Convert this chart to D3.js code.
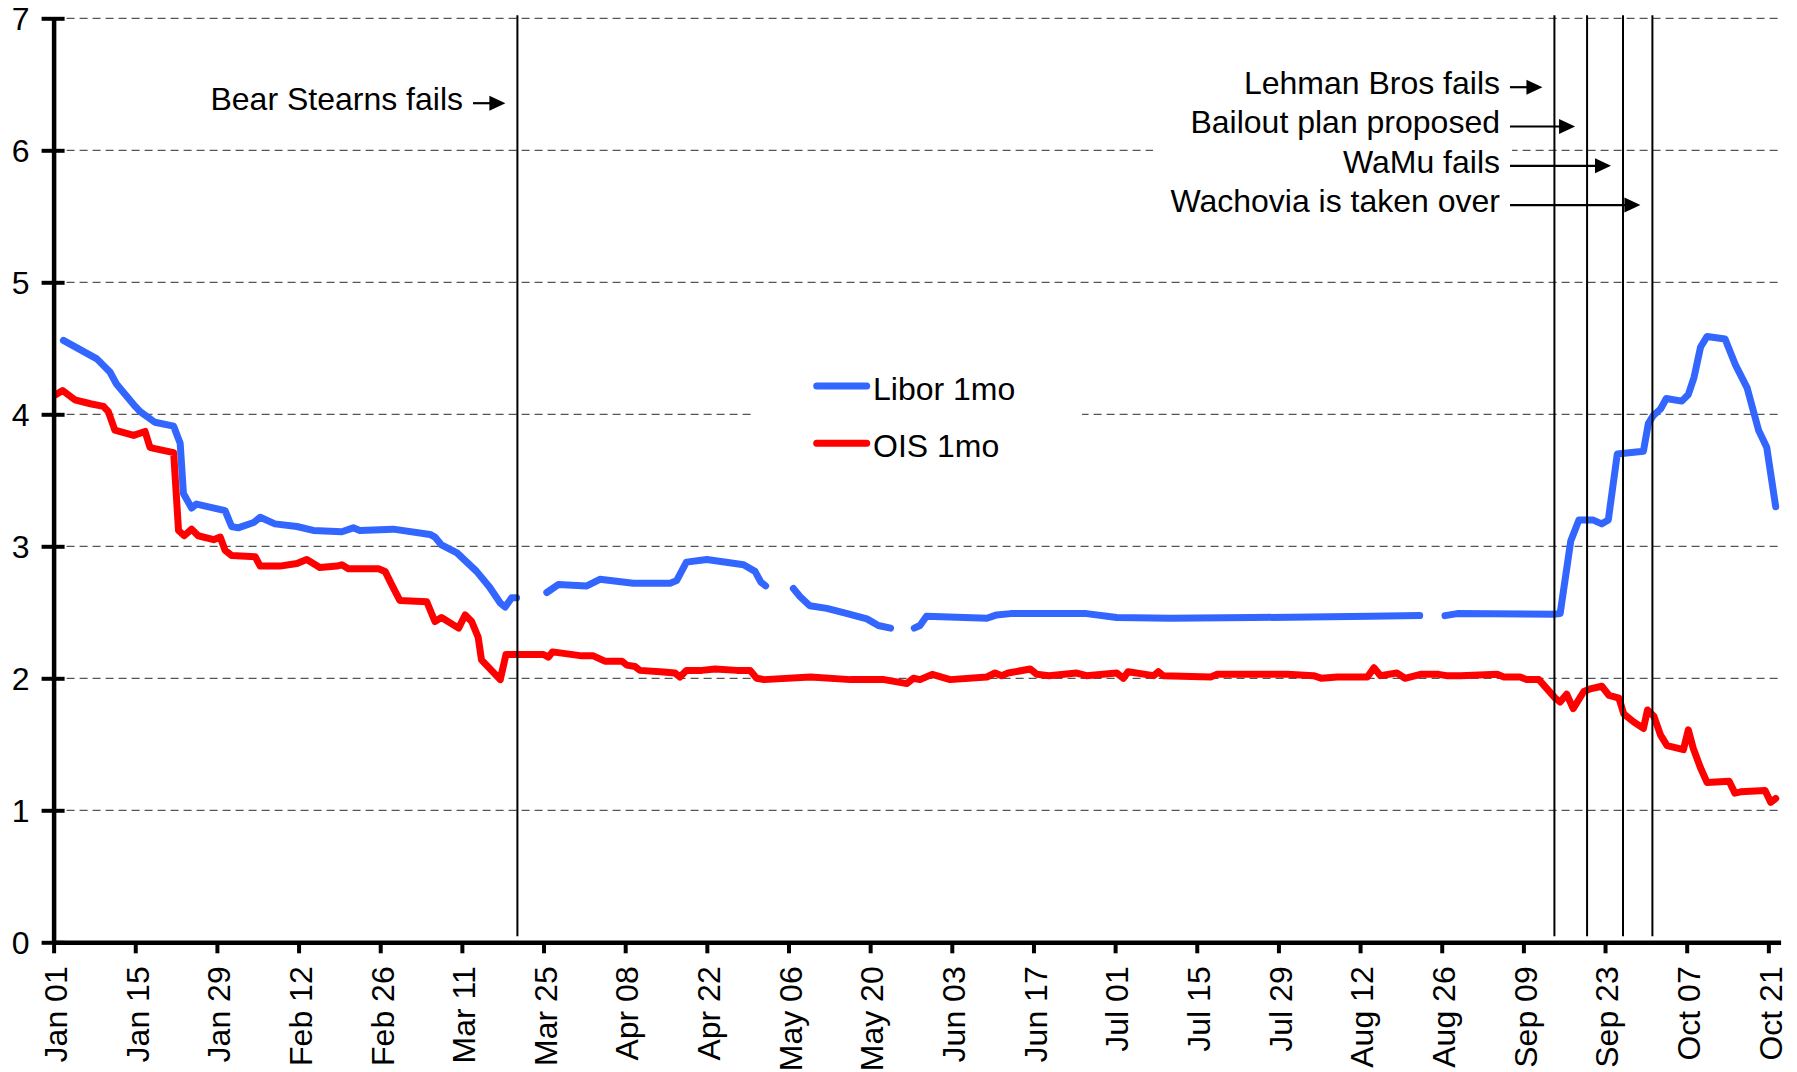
<!DOCTYPE html>
<html>
  <head>
    <meta charset="utf-8">
    <title>Libor vs OIS 1mo, 2008</title>
    <style>
      body { margin: 0; background: #fff; }
      text { font-family: "Liberation Sans", Arial, sans-serif; font-size: 32px; fill: #000; }
      .grid line { stroke: #555; stroke-width: 1.3px; stroke-dasharray: 8,5; }
      .series { fill: none; stroke-width: 7px; stroke-linejoin: round; stroke-linecap: round; }
      .event { stroke: #000; stroke-width: 2px; }
      .axis path, .axis line { stroke: #000; }
    </style>
    <script src="https://d3js.org/d3.v7.min.js"></script>
  </head>
  <body>
    <script type="text/javascript">
      // x values are business days counted from Jan 01 2008 (10 per tick)
      var tickLabels = ["Jan 01", "Jan 15", "Jan 29", "Feb 12", "Feb 26", "Mar 11", "Mar 25",
                        "Apr 08", "Apr 22", "May 06", "May 20", "Jun 03", "Jun 17", "Jul 01",
                        "Jul 15", "Jul 29", "Aug 12", "Aug 26", "Sep 09", "Sep 23", "Oct 07", "Oct 21"];

      // Libor 1mo, null = no fixing (UK holidays) -> gap in the line
      var libor = [
        [1.2, 4.56], [5.3, 4.42], [6.9, 4.32], [7.7, 4.23], [10.0, 4.06], [10.6, 4.02], [12.4, 3.94],
        [14.7, 3.91], [15.5, 3.78], [15.9, 3.40], [16.9, 3.29], [17.5, 3.32], [21.0, 3.27], [21.8, 3.15],
        [22.6, 3.14], [24.5, 3.18], [25.3, 3.22], [27.1, 3.17], [29.8, 3.15], [31.8, 3.12], [35.3, 3.11],
        [36.7, 3.14], [37.5, 3.12], [41.6, 3.13], [46.1, 3.09], [46.7, 3.07], [47.5, 3.01], [49.4, 2.95],
        [50.6, 2.88], [51.8, 2.81], [53.4, 2.69], [54.7, 2.57], [55.3, 2.54], [56.1, 2.61], [56.7, 2.61],
        [58, null],
        [60.4, 2.65], [61.8, 2.71], [65.3, 2.70], [66.9, 2.75], [71.0, 2.72], [75.5, 2.72], [76.3, 2.74],
        [77.5, 2.88], [80.0, 2.90], [84.5, 2.86], [85.9, 2.81], [86.6, 2.73], [87.2, 2.70],
        [89, null],
        [90.6, 2.68], [91.4, 2.62], [92.6, 2.55], [94.7, 2.53], [97.2, 2.49], [99.6, 2.45], [101.0, 2.40],
        [102.5, 2.38],
        [104, null],
        [105.4, 2.38], [106.1, 2.40], [106.9, 2.47], [114.3, 2.455], [115.5, 2.48], [117.2, 2.49],
        [126.5, 2.49], [130.2, 2.46], [136.7, 2.455], [146.9, 2.46], [161.3, 2.47], [167.3, 2.475],
        [169, null],
        [170.4, 2.475], [171.9, 2.49], [183.7, 2.485], [184.5, 2.49], [185.8, 3.04], [186.8, 3.20],
        [188.5, 3.20], [189.6, 3.17], [190.4, 3.20], [191.5, 3.70], [194.7, 3.72], [195.3, 3.93],
        [195.9, 3.99], [196.8, 4.04], [197.5, 4.12], [199.4, 4.10], [200.2, 4.15], [200.9, 4.28],
        [201.7, 4.51], [202.5, 4.59], [204.7, 4.57], [206.0, 4.37], [207.4, 4.20], [208.8, 3.88],
        [209.8, 3.75], [210.9, 3.30]
      ];

      // OIS 1mo
      var ois = [
        [0.3, 4.15], [1.1, 4.18], [2.6, 4.11], [4.5, 4.08], [6.1, 4.06], [6.7, 4.02], [7.5, 3.88],
        [9.8, 3.84], [11.2, 3.87], [11.8, 3.75], [12.4, 3.74], [14.7, 3.71], [15.3, 3.12], [16.0, 3.08],
        [16.9, 3.13], [17.7, 3.08], [19.6, 3.05], [20.4, 3.07], [21.0, 2.97], [21.8, 2.93], [24.7, 2.92],
        [25.3, 2.85], [27.7, 2.85], [29.8, 2.87], [31.0, 2.90], [32.6, 2.84], [34.7, 2.85], [35.3, 2.86],
        [36.1, 2.83], [39.8, 2.83], [40.6, 2.81], [41.4, 2.71], [42.4, 2.59], [45.7, 2.58], [46.7, 2.43],
        [47.5, 2.46], [49.6, 2.38], [50.4, 2.48], [51.2, 2.43], [52.0, 2.31], [52.4, 2.14], [54.7, 1.99],
        [55.4, 2.18], [60.0, 2.18], [60.6, 2.16], [61.1, 2.20], [64.7, 2.17], [66.1, 2.17], [67.5, 2.13],
        [69.6, 2.13], [70.2, 2.10], [71.2, 2.09], [71.8, 2.06], [74.3, 2.05], [76.1, 2.04], [76.7, 2.01],
        [77.5, 2.06], [79.4, 2.06], [81.0, 2.07], [83.7, 2.06], [85.3, 2.06], [86.1, 2.00], [87.0, 1.99],
        [92.7, 2.01], [97.6, 1.99], [101.7, 1.99], [104.5, 1.96], [105.3, 2.00], [106.1, 1.99],
        [107.6, 2.03], [109.8, 1.99], [114.3, 2.01], [115.3, 2.04], [116.1, 2.02], [116.9, 2.04],
        [119.6, 2.07], [120.4, 2.03], [121.9, 2.02], [125.3, 2.04], [126.5, 2.02], [130.2, 2.04],
        [131.0, 2.00], [131.6, 2.05], [134.7, 2.02], [135.3, 2.05], [135.9, 2.02], [141.7, 2.01],
        [142.5, 2.03], [147.4, 2.03], [151.1, 2.03], [154.3, 2.02], [155.3, 2.00], [157.2, 2.01],
        [160.9, 2.01], [161.7, 2.08], [162.5, 2.02], [164.5, 2.04], [165.5, 2.00], [167.4, 2.03],
        [169.6, 2.03], [170.6, 2.02], [172.3, 2.02], [176.8, 2.03], [177.6, 2.01], [179.6, 2.01],
        [180.4, 1.99], [181.9, 1.99], [182.9, 1.92], [183.9, 1.85], [184.5, 1.82], [185.3, 1.88],
        [186.1, 1.77], [187.4, 1.90], [188.2, 1.92], [189.6, 1.94], [190.5, 1.87], [191.7, 1.85],
        [192.3, 1.73], [193.5, 1.67], [194.7, 1.62], [195.2, 1.76], [196.0, 1.71], [196.8, 1.57],
        [197.6, 1.49], [199.6, 1.46], [200.2, 1.61], [200.8, 1.47], [201.7, 1.32], [202.5, 1.21],
        [205.2, 1.22], [205.9, 1.13], [206.6, 1.14], [209.6, 1.15], [210.3, 1.06], [210.9, 1.09]
      ];

      var seriesNames = ["Libor 1mo", "OIS 1mo"];
      var seriesColors = ["#3366ff", "#ff0000"];

      var eventNames = ["Bear Stearns fails", "Lehman Bros fails", "Bailout plan proposed",
                        "WaMu fails", "Wachovia is taken over"];
      var eventDays = [56.8, 183.8, 187.8, 192.2, 195.8];

      var width = 1797, height = 1072;

      var svg = d3.select("body")
                  .append("svg")
                  .attr("width", width)
                  .attr("height", height);

      var x = d3.scaleLinear().domain([0, 211.5]).range([53.6, 1780.6]);
      var y = d3.scaleLinear().domain([0, 7]).range([942.3, 18.3]);

      // dashed horizontal gridlines
      svg.append("g")
         .attr("class", "grid")
         .selectAll("line")
         .data(y.ticks(7).filter(function(d) { return d > 0; }))
         .enter()
         .append("line")
           .attr("x1", x.range()[0])
           .attr("x2", x.range()[1])
           .attr("y1", function(d) { return y(d); })
           .attr("y2", function(d) { return y(d); });

      // white boxes behind the legend and the september annotations
      svg.append("rect").attr("x", 753).attr("y", 352).attr("width", 329).attr("height", 130).attr("fill", "#fff");
      svg.append("rect").attr("x", 1153).attr("y", 60).attr("width", 359).attr("height", 165).attr("fill", "#fff");

      var line = d3.line()
                   .defined(function(d) { return d[1] !== null; })
                   .x(function(d) { return x(d[0]); })
                   .y(function(d) { return y(d[1]); });

      [libor, ois].forEach(function(data, i) {
        svg.append("path")
           .datum(data)
           .attr("class", "series")
           .attr("stroke", seriesColors[i])
           .attr("d", line);
      });

      // legend
      var legend = svg.append("g");
      seriesNames.forEach(function(name, i) {
        var ly = 386 + i * 57.3;
        legend.append("line")
              .attr("x1", 816.7).attr("x2", 866.7)
              .attr("y1", ly).attr("y2", ly)
              .attr("stroke", seriesColors[i])
              .attr("stroke-width", 7)
              .attr("stroke-linecap", "round");
        legend.append("text")
              .attr("x", 873)
              .attr("y", ly + 14)
              .text(name);
      });

      // vertical event lines
      svg.append("g")
         .selectAll("line")
         .data(eventDays)
         .enter()
         .append("line")
           .attr("class", "event")
           .attr("x1", function(d) { return x(d); })
           .attr("x2", function(d) { return x(d); })
           .attr("y1", y(7) - 3)
           .attr("y2", y(0) - 6);

      // annotation text + arrows
      function arrow(x0, x1, ay) {
        svg.append("line")
           .attr("x1", x0).attr("x2", x1 - 12)
           .attr("y1", ay).attr("y2", ay)
           .attr("stroke", "#000").attr("stroke-width", 2.2);
        svg.append("path")
           .attr("d", "M" + x1 + "," + ay + "L" + (x1 - 16) + "," + (ay - 7.5) + "L" + (x1 - 16) + "," + (ay + 7.5) + "Z")
           .attr("fill", "#000");
      }

      eventNames.forEach(function(name, i) {
        var tx, base;
        if (i == 0) {
          tx = 463; base = 110;
        } else {
          tx = 1500; base = 94 + (i - 1) * 39.3;
        }
        svg.append("text")
           .attr("x", tx)
           .attr("y", base)
           .attr("text-anchor", "end")
           .text(name);
        arrow(tx + 10, x(eventDays[i]) - 12, base - 6.8);
      });

      // axes
      var yAxis = svg.append("g")
                     .attr("class", "axis")
                     .attr("transform", "translate(" + x.range()[0] + ",0)")
                     .call(d3.axisLeft(y).ticks(7).tickSize(12).tickSizeOuter(0).tickPadding(12));
      yAxis.select(".domain").attr("stroke-width", 4.5);
      yAxis.selectAll(".tick line").attr("x1", 11).attr("stroke-width", 4);
      yAxis.selectAll(".tick text")
           .attr("x", -24)
           .attr("dy", "0.36em")
           .style("font-size", "32px")
           .style("font-family", "'Liberation Sans', Arial, sans-serif");

      var xAxis = svg.append("g")
                     .attr("class", "axis")
                     .attr("transform", "translate(0," + y(0) + ")")
                     .call(d3.axisBottom(x)
                             .tickValues(d3.range(0, 211, 10))
                             .tickFormat(function(d, i) { return tickLabels[i]; })
                             .tickSize(11)
                             .tickSizeOuter(0));
      xAxis.select(".domain").attr("stroke-width", 4.5);
      xAxis.selectAll(".tick line").attr("stroke-width", 4);
      xAxis.selectAll(".tick text")
           .attr("transform", "rotate(-90)")
           .attr("x", -24)
           .attr("y", 0)
           .attr("dy", "0.4em")
           .style("text-anchor", "end")
           .style("font-size", "32px")
           .style("font-family", "'Liberation Sans', Arial, sans-serif");
    </script>
  </body>
</html>
